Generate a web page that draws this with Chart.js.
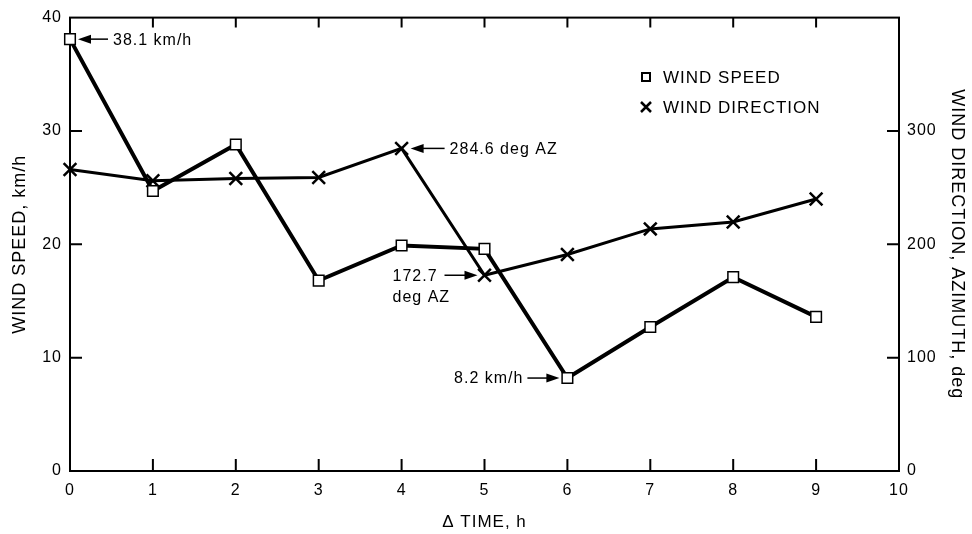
<!DOCTYPE html>
<html>
<head>
<meta charset="utf-8">
<script src="https://cdn.jsdelivr.net/npm/chart.js@4.4.1/dist/chart.umd.min.js"></script>
<style>
  html, body { margin: 0; padding: 0; background: #fff; }
  #wrap { width: 972px; height: 534px; }
</style>
</head>
<body>
<div id="wrap"><canvas id="chart" width="972" height="534"></canvas></div>
<script>
// Données
const hours = [0, 1, 2, 3, 4, 5, 6, 7, 8, 9];
const windSpeed = [38.1, 24.7, 28.8, 16.8, 19.9, 19.6, 8.2, 12.7, 17.1, 13.6];   // km/h
const windDirection = [266, 256, 258, 259, 284.6, 172.7, 191, 213.6, 219.7, 240]; // deg AZ
const seriesNames = ["WIND SPEED", "WIND DIRECTION"];
const speedTicks = [0, 10, 20, 30, 40];
const directionTicks = [0, 100, 200, 300];

const FONT = "'Liberation Sans', Arial, Helvetica, sans-serif";
const SPACING = "1px";

// Cadre + petites graduations tournées vers l'intérieur
const framePlugin = {
  id: "frame",
  beforeLayout(chart) { chart.ctx.letterSpacing = SPACING; },
  beforeDraw(chart) { chart.ctx.letterSpacing = SPACING; },
  beforeDatasetsDraw(chart) {
    const { ctx, chartArea: a, scales } = chart;
    ctx.save();
    ctx.strokeStyle = "#000";
    ctx.lineWidth = 2;
    ctx.strokeRect(a.left, a.top, a.right - a.left, a.bottom - a.top);
    ctx.beginPath();
    scales.x.ticks.forEach(t => {
      if (t.value <= 0 || t.value >= 10) return;
      const px = scales.x.getPixelForValue(t.value);
      ctx.moveTo(px, a.bottom); ctx.lineTo(px, a.bottom - 12);
      ctx.moveTo(px, a.top); ctx.lineTo(px, a.top + 10);
    });
    scales.ySpeed.ticks.forEach(t => {
      if (t.value <= 0 || t.value >= 40) return;
      const py = scales.ySpeed.getPixelForValue(t.value);
      ctx.moveTo(a.left, py); ctx.lineTo(a.left + 12, py);
    });
    scales.yDir.ticks.forEach(t => {
      if (t.value <= 0 || t.value >= 400) return;
      const py = scales.yDir.getPixelForValue(t.value);
      ctx.moveTo(a.right, py); ctx.lineTo(a.right - 12, py);
    });
    ctx.stroke();
    ctx.restore();
  },
  afterDraw(chart) {
    const { ctx, scales } = chart;
    const xs = scales.x, ys = scales.ySpeed, yd = scales.yDir;
    ctx.save();
    ctx.letterSpacing = SPACING;
    ctx.fillStyle = "#000";
    ctx.strokeStyle = "#000";
    ctx.font = "16px " + FONT;
    ctx.textBaseline = "middle";
    ctx.textAlign = "left";

    // légende
    const lx = 646, ly1 = 77, ly2 = 107;
    ctx.lineWidth = 2;
    ctx.strokeRect(lx - 4, ly1 - 4, 8, 8);
    ctx.lineWidth = 2.5;
    ctx.beginPath();
    ctx.moveTo(lx - 5, ly2 - 5); ctx.lineTo(lx + 5, ly2 + 5);
    ctx.moveTo(lx + 5, ly2 - 5); ctx.lineTo(lx - 5, ly2 + 5);
    ctx.stroke();
    ctx.font = "17px " + FONT;
    ctx.fillText(seriesNames[0], 663, ly1 + 1);
    ctx.fillText(seriesNames[1], 663, ly2 + 1);
    ctx.font = "16px " + FONT;

    // flèches d'annotation
    function arrow(x1, y, x2) {
      const dir = x2 > x1 ? 1 : -1;
      ctx.lineWidth = 1.5;
      ctx.beginPath();
      ctx.moveTo(x1, y); ctx.lineTo(x2 - dir * 10, y);
      ctx.stroke();
      ctx.beginPath();
      ctx.moveTo(x2, y);
      ctx.lineTo(x2 - dir * 13, y - 4.5);
      ctx.lineTo(x2 - dir * 13, y + 4.5);
      ctx.closePath();
      ctx.fill();
    }

    let px = xs.getPixelForValue(hours[0]), py = ys.getPixelForValue(windSpeed[0]);
    arrow(px + 38, py, px + 8);
    ctx.fillText("38.1 km/h", px + 43, py + 1);

    px = xs.getPixelForValue(hours[4]); py = yd.getPixelForValue(windDirection[4]);
    arrow(px + 43, py, px + 9);
    ctx.fillText("284.6 deg AZ", px + 48, py + 1);

    px = xs.getPixelForValue(hours[5]); py = yd.getPixelForValue(windDirection[5]);
    arrow(px - 40, py, px - 7);
    ctx.fillText("172.7", px - 92, py + 1);
    ctx.fillText("deg AZ", px - 92, py + 22);

    px = xs.getPixelForValue(hours[6]); py = ys.getPixelForValue(windSpeed[6]);
    arrow(px - 40, py, px - 8);
    ctx.textAlign = "right";
    ctx.fillText("8.2 km/h", px - 44, py + 1);
    ctx.restore();
  }
};

const speedPoints = hours.map((h, i) => ({ x: h, y: windSpeed[i] }));
const directionPoints = hours.map((h, i) => ({ x: h, y: windDirection[i] }));

new Chart(document.getElementById("chart").getContext("2d"), {
  type: "line",
  data: {
    datasets: [
      {
        label: seriesNames[0],
        data: speedPoints,
        yAxisID: "ySpeed",
        borderColor: "#000",
        borderWidth: 4,
        pointStyle: "rect",
        pointRadius: 7.5,
        pointBackgroundColor: "#fff",
        pointBorderColor: "#000",
        pointBorderWidth: 1.5,
        tension: 0,
        clip: false
      },
      {
        label: seriesNames[1],
        data: directionPoints,
        yAxisID: "yDir",
        borderColor: "#000",
        borderWidth: 3,
        pointStyle: "crossRot",
        pointRadius: 9,
        pointBorderColor: "#000",
        pointBorderWidth: 2.5,
        tension: 0,
        clip: false
      }
    ]
  },
  options: {
    responsive: false,
    animation: false,
    events: [],
    layout: { padding: { top: 14, left: 0, right: 0, bottom: 0 } },
    plugins: { legend: { display: false }, tooltip: { enabled: false } },
    scales: {
      x: {
        type: "linear",
        min: 0, max: 10,
        border: { display: false },
        grid: { display: false, drawTicks: false },
        ticks: { stepSize: 1, color: "#000", padding: 10, font: { family: FONT, size: 16 } },
        title: { display: true, text: "Δ TIME, h", color: "#000", padding: { top: 4, bottom: 1 }, font: { family: FONT, size: 17 } },
        afterFit(scale) { scale.height = 63; }
      },
      ySpeed: {
        type: "linear",
        position: "left",
        min: 0, max: 40,
        border: { display: false },
        grid: { display: false, drawTicks: false },
        afterBuildTicks(scale) { scale.ticks = speedTicks.map(v => ({ value: v })); },
        ticks: { color: "#000", padding: 8, font: { family: FONT, size: 16 } },
        title: { display: true, text: "WIND SPEED, km/h", color: "#000", padding: { top: 9, bottom: 4 }, font: { family: FONT, size: 18 } },
        afterFit(scale) { scale.width = 70; }
      },
      yDir: {
        type: "linear",
        position: "right",
        min: 0, max: 400,
        border: { display: false },
        grid: { display: false, drawTicks: false },
        afterBuildTicks(scale) { scale.ticks = directionTicks.map(v => ({ value: v })); },
        ticks: { color: "#000", padding: 8, font: { family: FONT, size: 16 } },
        title: { display: true, text: "WIND DIRECTION, AZIMUTH, deg", color: "#000", padding: { top: 4, bottom: 4 }, font: { family: FONT, size: 18 } },
        afterFit(scale) { scale.width = 73; }
      }
    }
  },
  plugins: [framePlugin]
});
</script>
</body>
</html>
